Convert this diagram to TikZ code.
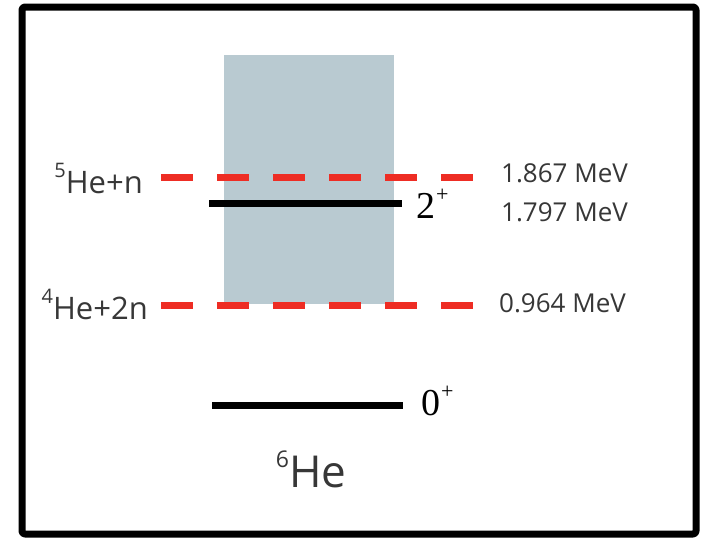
\documentclass[tikz,border=0pt]{standalone}
\usepackage{fontspec}
\setmainfont{Open Sans}
\newfontfamily\serifnum{Liberation Serif}
\definecolor{lvlred}{RGB}{238,45,36}
\definecolor{boxgray}{RGB}{185,202,209}
\definecolor{txtgray}{RGB}{55,55,55}
\newcommand{\iso}[3]{\raisebox{#2}{\fontsize{#3}{#3}\selectfont #1}}
\newcommand{\spin}[1]{{\serifnum\fontsize{38}{38}\selectfont #1\kern1pt\raisebox{17pt}{\fontsize{22}{22}\selectfont +}}}
\tikzset{
  level/.style={line width=7pt},
  thres/.style={line width=7pt, lvlred, dash pattern=on 32pt off 24pt},
  lab/.style={inner sep=0pt, text=txtgray, font=\fontsize{31}{31}\selectfont},
  mev/.style={inner sep=0pt, text=txtgray, font=\fontsize{26}{26}\selectfont, anchor=base west},
}
\begin{document}
\begin{tikzpicture}[x=1pt, y=-1pt, line join=round]
		\useasboundingbox (0,0) rectangle (703,538);
		\draw[line width=7pt, rounded corners=3pt] (22,7) rectangle (696,534);
		\fill[boxgray] (224,55) rectangle (394,304);
		% thresholds
		\coordinate (t5a) at (161,177);
		\coordinate (t5b) at (473,177);
		\coordinate (t4a) at (161,305);
		\coordinate (t4b) at (473,305);
		\draw[thres] (t5a) -- (t5b);
		\draw[thres] (t4a) -- (t4b);
		% levels
		\coordinate (e2a) at (209,203);
		\coordinate (e2b) at (402,203);
		\coordinate (e0a) at (212,405);
		\coordinate (e0b) at (403,405);
		\draw[level] (e2a) -- (e2b);
		\draw[level] (e0a) -- (e0b);
		\node[lab, anchor=base east] (he5) at (143,193) {\iso{5}{16pt}{20}He+n};
		\node[lab, anchor=base east] (he4) at (148,319) {\iso{4}{16pt}{20}He+2n};
		\node[mev] (m5) at (501,182) {1.867 MeV};
		\node[mev] (m2) at (501,221) {1.797 MeV};
		\node[mev] (m4) at (499,312) {0.964 MeV};
		\node[inner sep=0pt, anchor=base west] (j2) at (416,218) {\spin{2}};
		\node[inner sep=0pt, anchor=base west] (j0) at (421,415) {\spin{0}};
		\node[lab, anchor=base, font=\fontsize{44}{44}\selectfont] (he6) at (311,487) {\iso{6}{20pt}{23}He};
	\end{tikzpicture}
\end{document}
